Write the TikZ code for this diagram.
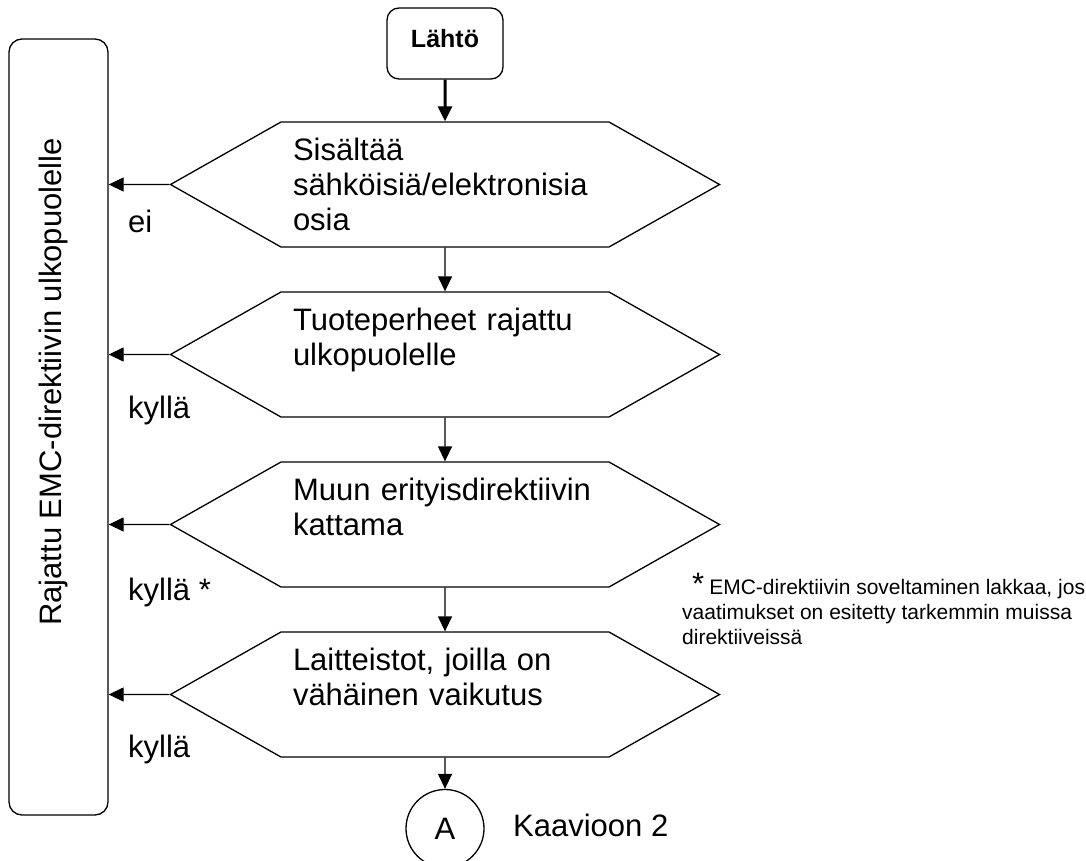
\documentclass[tikz,border=0pt]{standalone}
\usepackage{fontspec}
\setmainfont{Liberation Sans}
\usetikzlibrary{arrows.meta,positioning,shapes.symbols}

\begin{document}
\begin{tikzpicture}[x=1pt,y=-1pt,node distance=170pt,on grid,
    font=\fontsize{31}{35}\selectfont,
    decision/.style={signal,signal to=west and east,signal pointer angle=59,draw,
      line width=1.3pt,minimum width=549pt,minimum height=125pt,text width=304pt,
      align=left,inner sep=4pt},
    startbox/.style={draw,line width=1.3pt,rounded corners=12pt,minimum width=116pt,
      minimum height=71pt,text depth=11pt,font=\fontsize{25}{30}\selectfont\bfseries},
    outbox/.style={draw,line width=1.3pt,rounded corners=13pt,minimum width=99pt,
      minimum height=776pt},
    connector/.style={circle,draw,line width=1.3pt,minimum size=78pt,inner sep=0pt},
    lbl/.style={anchor=base west,inner sep=0pt},
    note/.style={anchor=north west,inner sep=0pt,align=left,font=\fontsize{21}{25}\selectfont},
    arr/.style={-{Triangle[length=15pt,width=14pt]},line width=1.3pt}]
   \useasboundingbox (0,0) rectangle (1086,861);
   \node[startbox] (start) at (445,43.5) {Lähtö};
   \node[decision] (d1) [below=141pt of start] {Sisältää\\sähköisiä/elektronisia\\osia};
   \node[decision] (d2) [below=of d1] {Tuoteperheet rajattu\\ulkopuolelle\\\mbox{}};
   \node[decision] (d3) [below=of d2] {Muun erityisdirektiivin\\kattama\\\mbox{}};
   \node[decision] (d4) [below=of d3] {Laitteistot, joilla on\\vähäinen vaikutus\\\mbox{}};
   \node[connector] (A) [below=134pt of d4] {A};
   \node[lbl] (toA) at (513,836) {Kaavioon 2};
   \node[outbox] (out) at (58.5,427) {};
   \node[rotate=90,anchor=base,inner sep=0pt] (outtext) at (61,382) {Rajattu EMC-direktiivin ulkopuolelle};
   \node[lbl] (ei) at (128,232) {ei};
   \node[lbl] (k1) at (128,418) {kyllä};
   \node[lbl] (k2) at (128,600) {kyllä *};
   \node[lbl] (k3) at (128,757) {kyllä};
   \node[note] (fn) at (682,573) {\hspace*{10pt}{\fontsize{31}{25}\selectfont *}\hspace{5pt}EMC-direktiivin soveltaminen lakkaa, jos\\vaatimukset on esitetty tarkemmin muissa\\direktiiveissä};
    \path[arr]
    (start) edge [line width=3pt] (d1)
    (d1) edge (d2) edge (d1 -| out.east)
    (d2) edge (d3) edge (d2 -| out.east)
    (d3) edge (d4) edge (d3 -| out.east)
    (d4) edge (A) edge (d4 -| out.east);
\end{tikzpicture}
\end{document}
